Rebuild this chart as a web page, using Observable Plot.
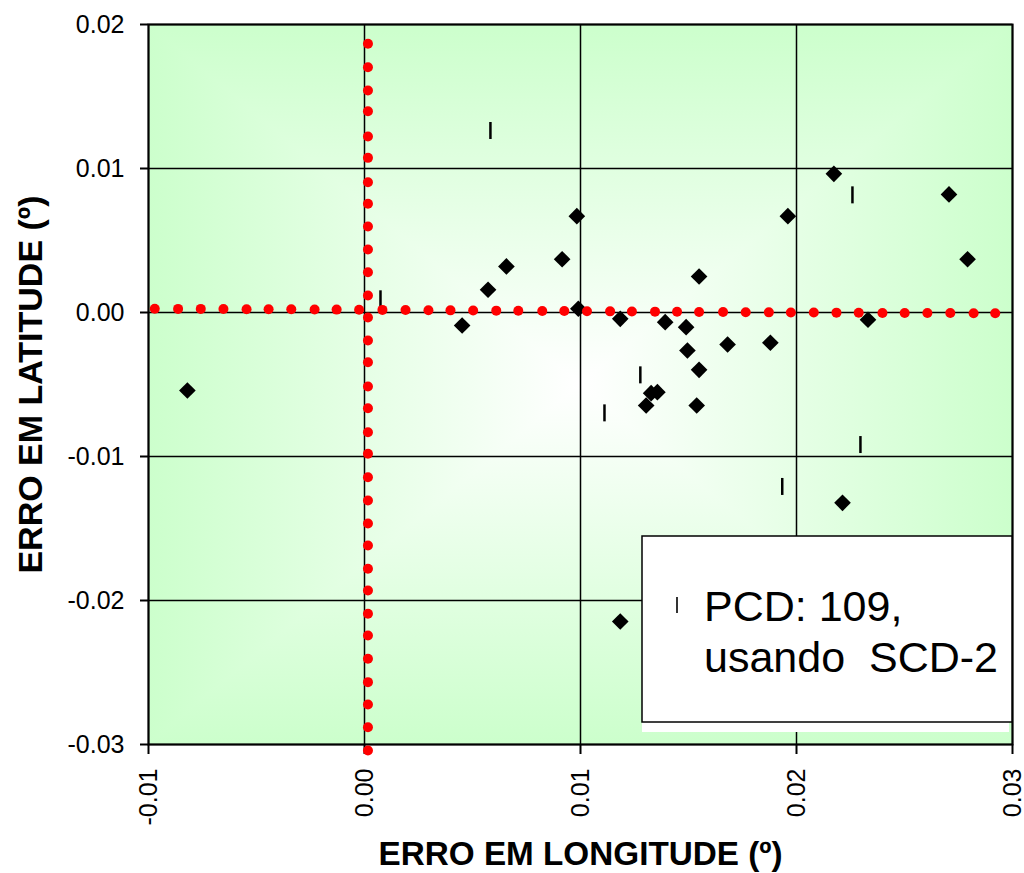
<!DOCTYPE html>
<html><head><meta charset="utf-8">
<script src="https://cdn.jsdelivr.net/npm/d3@7"></script>
<script src="https://cdn.jsdelivr.net/npm/@observablehq/plot@0.6"></script>
<style>
body{margin:0;background:#fff}
#chart svg g[aria-label="x-axis tick"] path, #chart svg g[aria-label="y-axis tick"] path{stroke-width:2}
</style>
</head><body><div id="chart"></div>
<script>
const xTicks = [-0.01, 0, 0.01, 0.02, 0.03];
const yTicks = [-0.03, -0.02, -0.01, 0, 0.01, 0.02];
const xTitle = "ERRO EM LONGITUDE (º)";
const yTitle = "ERRO EM LATITUDE (º)";
const legendLines = ["PCD: 109,", "usando  SCD-2"];

// black diamonds
const diamondX = [0.00657,0.00572,0.00915,0.00983,0.00452,0.0099,0.02173,0.02706,0.0196,0.02792,0.01549,0.01184,0.01392,0.01489,0.02331,0.01495,0.01681,0.01879,0.01549,0.01356,0.01327,0.01304,0.01538,0.02213,-0.0082,0.01184];
const diamondY = [0.0032,0.00158,0.0037,0.00669,-0.0009,0.00026,0.00963,0.0082,0.00669,0.0037,0.0025,-0.00044,-0.00067,-0.00102,-0.0005,-0.00264,-0.00222,-0.0021,-0.00398,-0.00553,-0.0056,-0.00646,-0.00646,-0.01322,-0.00542,-0.02146];

// PCD 109 (bar markers)
const barX = [0.00583,0.00074,0.02259,0.01277,0.01111,0.02296,0.01934];
const barY = [0.01264,0.00095,0.00817,-0.00433,-0.00697,-0.00917,-0.01208];

// red reference row (horizontal)
const rowX = [-0.00971,-0.00863,-0.00758,-0.00653,-0.00546,-0.00444,-0.00339,-0.00231,-0.00129,-0.00025,0.00083,0.0019,0.00296,0.00398,0.00503,0.0061,0.00712,0.00823,0.00925,0.0103,0.01137,0.01238,0.01345,0.01447,0.01549,0.0166,0.01765,0.01872,0.01974,0.0208,0.02185,0.02288,0.02398,0.02501,0.02606,0.02712,0.0282,0.0292];
const rowY = [0.00026,0.00025,0.00025,0.00024,0.00023,0.00022,0.00022,0.00021,0.0002,0.00019,0.00018,0.00017,0.00016,0.00015,0.00014,0.00013,0.00012,0.00011,0.0001,0.00009,0.00008,0.00007,0.00006,0.00005,0.00004,0.00003,0.00002,0.00001,0,0,-0.00001,-0.00002,-0.00003,-0.00003,-0.00004,-0.00004,-0.00005,-0.00005];

// red reference column (vertical)
const colX = [0.00016,0.00016,0.00016,0.00016,0.00016,0.00016,0.00016,0.00016,0.00016,0.00016,0.00016,0.00016,0.00016,0.00016,0.00016,0.00016,0.00016,0.00016,0.00016,0.00016,0.00016,0.00016,0.00016,0.00016,0.00016,0.00016,0.00016,0.00016,0.00016,0.00016,0.00016,0.00016];
const colY = [0.01866,0.01703,0.01542,0.01397,0.01222,0.01074,0.00905,0.00755,0.00597,0.00438,0.0028,0.00118,-0.00035,-0.00194,-0.00345,-0.00514,-0.00665,-0.00831,-0.00981,-0.01144,-0.01306,-0.01465,-0.01618,-0.0178,-0.01931,-0.02092,-0.02243,-0.02405,-0.02567,-0.02722,-0.0288,-0.03042];

const diamonds = diamondX.map((x,i)=>({x, y: diamondY[i]}));
const bars = barX.map((x,i)=>({x, y: barY[i]}));
const red = rowX.map((x,i)=>({x, y: rowY[i]})).concat(colX.map((x,i)=>({x, y: colY[i]})));

const barSymbol = {draw(ctx, size){ const h = Math.sqrt(size/Math.PI); ctx.moveTo(0,-h); ctx.lineTo(0,h); }};
const fmt = d => d.toFixed(2);
const font = "'Liberation Sans', Arial, Helvetica, sans-serif";

const plot = Plot.plot({
  width: 1024, height: 873,
  marginLeft: 148, marginRight: 12, marginTop: 24, marginBottom: 129,
  style: {fontFamily: font, fontSize: "25px", background: "white", color: "black", overflow: "visible"},
  x: {domain: [-0.01, 0.03], ticks: xTicks, tickFormat: fmt, tickRotate: -90, tickSize: 10, tickPadding: 14, label: null},
  y: {domain: [-0.03, 0.02], ticks: yTicks, tickFormat: fmt, tickSize: 8, tickPadding: 16, label: null},
  marks: [
    Plot.ruleX(xTicks, {stroke: "black", strokeWidth: 1.5}),
    Plot.ruleY(yTicks, {stroke: "black", strokeWidth: 1.5}),
    Plot.frame({stroke: "black", strokeWidth: 2}),
    Plot.dot(diamonds, {x: "x", y: "y", symbol: "diamond2", r: 7.5, fill: "black", stroke: "none"}),
    Plot.dot(bars, {x: "x", y: "y", symbol: barSymbol, r: 8.5, stroke: "black", strokeWidth: 2.5, fill: "none"}),
    Plot.dot(red, {x: "x", y: "y", r: 5, fill: "#ff0000", stroke: "none"}),
    Plot.text([yTitle], {frameAnchor: "left", dx: -117.5, rotate: -90, textAnchor: "middle", fontSize: 34, fontWeight: "bold", fill: "black"}),
    Plot.text([xTitle], {frameAnchor: "bottom", dy: 120, textAnchor: "middle", fontSize: 33, fontWeight: "bold", fill: "black"})
  ]
});

document.getElementById("chart").appendChild(plot);

// background gradient (rectangular "from center")
const sx = plot.scale("x"), sy = plot.scale("y");
const L = sx.apply(-0.01), R = sx.apply(0.03), T = sy.apply(0.02), B = sy.apply(-0.03);
const cx = (L+R)/2, cy = (T+B)/2;
const svg = d3.select(plot);
const defs = svg.insert("defs", ":first-child");
function grad(id, x1, y1, x2, y2){
  const g = defs.append("linearGradient").attr("id", id).attr("gradientUnits","userSpaceOnUse")
    .attr("x1",x1).attr("y1",y1).attr("x2",x2).attr("y2",y2);
  g.append("stop").attr("offset",0).attr("stop-color","#ccffcc");
  g.append("stop").attr("offset",0.5).attr("stop-color","#ffffff");
  g.append("stop").attr("offset",1).attr("stop-color","#ccffcc");
}
grad("gH", L, 0, R, 0);
grad("gV", 0, T, 0, B);
const bgNode = document.createElementNS("http://www.w3.org/2000/svg","g");
const styleEl = plot.querySelector("style");
plot.insertBefore(bgNode, styleEl ? styleEl.nextSibling : plot.firstChild);
const bg = d3.select(bgNode);
bg.append("rect").attr("x",L).attr("y",T).attr("width",R-L).attr("height",B-T).attr("fill","url(#gH)");
bg.append("path").attr("d",`M${L},${T}L${R},${T}L${cx},${cy}Z`).attr("fill","url(#gV)");
bg.append("path").attr("d",`M${L},${B}L${R},${B}L${cx},${cy}Z`).attr("fill","url(#gV)");

// fit x title width
plot.querySelectorAll("text").forEach(t => {
  if (t.textContent === xTitle) { t.setAttribute("textLength", 404); t.setAttribute("lengthAdjust", "spacingAndGlyphs"); }
});

// legend box
const lg = svg.append("g").attr("text-anchor", "start");
lg.append("rect").attr("x",642).attr("y",536).attr("width",367).attr("height",196).attr("fill","white");
lg.append("rect").attr("x",642).attr("y",536).attr("width",R-642).attr("height",186).attr("fill","white").attr("stroke","black").attr("stroke-width",1.5);
lg.append("line").attr("x1",677).attr("x2",677).attr("y1",597).attr("y2",613).attr("stroke","black").attr("stroke-width",1.6);
legendLines.forEach((s,i)=>{
  lg.append("text").attr("x",704).attr("y",621+51*i).attr("font-size",43).attr("font-family",font)
    .attr("text-anchor","start").attr("fill","black").style("white-space","pre").text(s);
});
</script>
</body></html>
